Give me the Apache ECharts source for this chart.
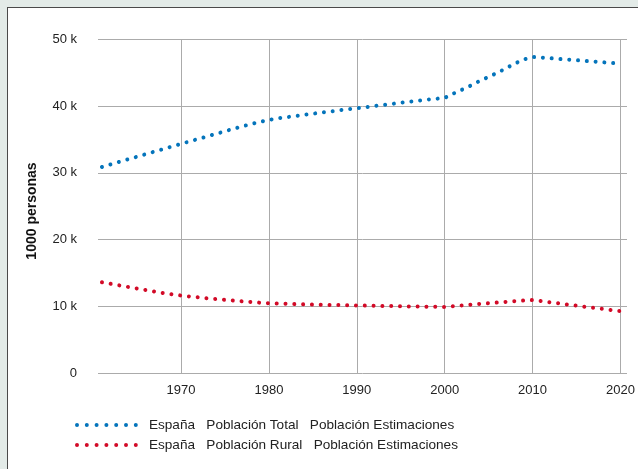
<!DOCTYPE html>
<html>
<head>
<meta charset="utf-8">
<script src="https://cdn.jsdelivr.net/npm/echarts@6/dist/echarts.min.js"></script>
<style>
  html, body { margin: 0; padding: 0; width: 638px; height: 469px; overflow: hidden; background: #e3ebe8; }
  #frame { position: absolute; left: 7px; top: 7px; width: 640px; height: 470px; background: #fff; border-left: 1px solid #4a4a4a; border-top: 1px solid #4a4a4a; }
  #chart { position: absolute; left: 0; top: 0; width: 638px; height: 469px; }
</style>
</head>
<body>
<div id="frame"></div>
<div id="chart"></div>
<script>
// Years 1961..2020
const years = [];
for (let y = 1961; y <= 2020; y++) years.push(y);

const xTicks = [1970, 1980, 1990, 2000, 2010, 2020];
const yTicks = [0, 10000, 20000, 30000, 40000, 50000];

// Values in 1000 personas
const totalValues = [
  30880, 31280, 31670, 32050, 32430, 32820, 33200, 33580, 33970, 34350,
  34730, 35110, 35480, 35860, 36240, 36620, 36990, 37330, 37650, 37950,
  38180, 38350, 38530, 38700, 38880, 39040, 39200, 39380, 39530, 39680,
  39850, 40020, 40180, 40350, 40510, 40680, 40830, 40990, 41110, 41240,
  41900, 42500, 43100, 43800, 44400, 45000, 45700, 46400, 47000, 47380,
  47290, 47190, 47090, 46990, 46890, 46790, 46690, 46590, 46480, 46370
];

const ruralValues = [
  13600, 13370, 13130, 12900, 12670, 12440, 12200, 11970, 11780, 11620,
  11470, 11330, 11200, 11080, 10970, 10860, 10750, 10640, 10540, 10450,
  10410, 10370, 10330, 10290, 10250, 10230, 10200, 10180, 10150, 10130,
  10100, 10080, 10050, 10030, 10000, 9980, 9960, 9940, 9920, 9900,
  10020, 10140, 10250, 10360, 10470, 10570, 10670, 10770, 10860, 10940,
  10770, 10600, 10430, 10260, 10090, 9920, 9760, 9600, 9430, 9270
];

const seriesNames = [
  'España   Población Total   Población Estimaciones',
  'España   Población Rural   Población Estimaciones'
];
const colors = ['#0474bb', '#d20a27'];

// legend icon: seven dots
function dotsIcon(n, r, step) {
  let d = 'path://';
  for (let i = 0; i < n; i++) {
    const cx = r + i * step;
    d += 'M' + (cx - r) + ' ' + r + 'a' + r + ' ' + r + ' 0 1 0 ' + (2 * r) + ' 0a' + r + ' ' + r + ' 0 1 0 ' + (-2 * r) + ' 0Z';
  }
  return d;
}
const legendIcon = dotsIcon(7, 2, 9.8);

const chart = echarts.init(document.getElementById('chart'), null, { renderer: 'canvas' });

const fontFamily = '"Liberation Sans", Arial, Helvetica, sans-serif';

const option = {
  backgroundColor: 'transparent',
  animation: false,
  textStyle: { fontFamily: fontFamily },
  grid: { left: 98, right: 11, top: 39.5, bottom: 96, containLabel: false },
  xAxis: {
    type: 'value',
    min: 1960.55,
    max: 2020.75,
    axisLine: { show: false },
    axisTick: { show: false, customValues: xTicks },
    axisLabel: {
      customValues: xTicks,
      color: '#222',
      fontSize: 13,
      margin: 11,
      fontFamily: fontFamily,
      formatter: function (v) { return String(v); }
    },
    splitLine: { show: true, lineStyle: { color: '#ababab', width: 1 } }
  },
  yAxis: {
    type: 'value',
    min: 0,
    max: 50000,
    interval: 10000,
    axisLine: { show: false },
    axisTick: { show: false },
    axisLabel: {
      color: '#222',
      fontSize: 13,
      margin: 21,
      fontFamily: fontFamily,
      formatter: function (v) { return v === 0 ? '0' : (v / 1000) + ' k'; }
    },
    splitLine: { show: true, lineStyle: { color: '#ababab', width: 1 } }
  },
  legend: {
    orient: 'vertical',
    left: 75,
    top: 418,
    icon: legendIcon,
    itemWidth: 63,
    itemHeight: 4,
    itemGap: 6,
    padding: 0,
    textStyle: { color: '#222', fontSize: 13.6, fontFamily: fontFamily, padding: [0, 0, 0, 6] },
    data: seriesNames
  },
  graphic: [{
    type: 'text',
    x: 32,
    y: 211,
    rotation: Math.PI / 2,
    style: {
      text: '1000 personas',
      fontSize: 14,
      fontWeight: 'bold',
      fontFamily: fontFamily,
      fill: '#111',
      align: 'center',
      verticalAlign: 'middle'
    }
  }],
  series: [
    {
      name: seriesNames[0],
      type: 'line',
      symbol: 'none',
      data: years.map((y, i) => [y, totalValues[i]]),
      lineStyle: { color: colors[0], width: 4, type: [0.01, 8.8], cap: 'round' },
      itemStyle: { color: colors[0] }
    },
    {
      name: seriesNames[1],
      type: 'line',
      symbol: 'none',
      data: years.map((y, i) => [y, ruralValues[i]]),
      lineStyle: { color: colors[1], width: 4, type: [0.01, 8.8], cap: 'round' },
      itemStyle: { color: colors[1] }
    }
  ]
};

chart.setOption(option);
</script>
</body>
</html>
